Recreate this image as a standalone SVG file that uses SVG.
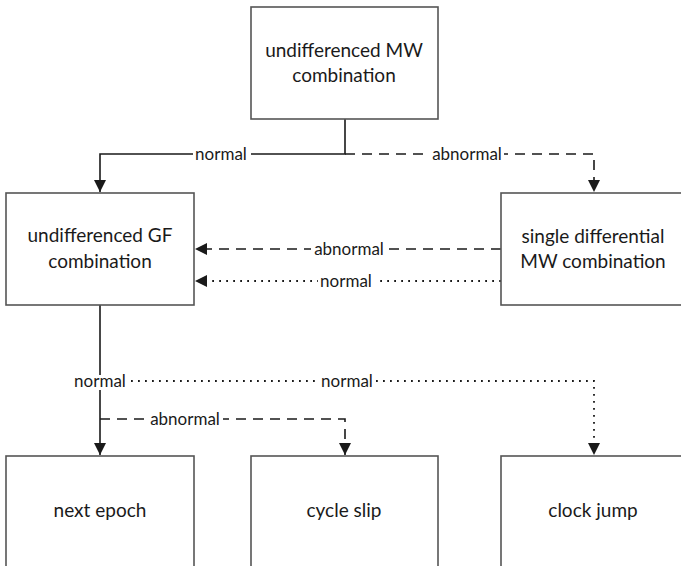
<svg xmlns="http://www.w3.org/2000/svg" width="681" height="566" viewBox="0 0 681 566">
<style>
.box{fill:#fff;stroke:#555;stroke-width:1.6}
.nt{font-family:Lato,"Open Sans",sans-serif;font-size:19px;fill:#1a1a1a;text-anchor:middle}
.lb{font-family:Lato,"Open Sans",sans-serif;font-size:17px;fill:#1a1a1a;text-anchor:middle}
.ln{fill:none;stroke:#1a1a1a;stroke-width:1.6}
.da{stroke-dasharray:10 7}
.do{stroke-dasharray:1.8 5.2;stroke-width:1.8}
.bg{fill:#fff}
</style>
<defs>
<marker id="ah" markerUnits="userSpaceOnUse" markerWidth="12" markerHeight="14" viewBox="0 0 12 14" refX="12" refY="7" orient="auto">
<path d="M0,1 L12,7 L0,13 Z" fill="#1a1a1a"/>
</marker>
</defs>
<rect width="681" height="566" fill="#fff"/>
<g id="connectors">
<path class="ln" d="M345,119 V154 H100 V192" marker-end="url(#ah)"/>
<path class="ln da" d="M345,154 H594 V192" marker-end="url(#ah)"/>
<path class="ln da" d="M501,249 H195" marker-end="url(#ah)"/>
<path class="ln do" d="M501,281 H195" marker-end="url(#ah)"/>
<path class="ln" d="M100,305 V375"/>
<path class="ln" d="M100,390 V455" marker-end="url(#ah)"/>
<path class="ln do" d="M131,381 H594 V455" marker-end="url(#ah)"/>
<path class="ln da" d="M100,419 H345 V455" marker-end="url(#ah)"/>
<rect class="bg" x="193" y="146" width="58" height="16"/>
<text class="lb" x="221" y="160">normal</text>
<rect class="bg" x="430" y="146" width="74" height="16"/>
<text class="lb" x="467" y="160">abnormal</text>
<rect class="bg" x="311" y="241" width="76" height="16"/>
<text class="lb" x="349" y="255">abnormal</text>
<rect class="bg" x="318" y="273" width="57" height="16"/>
<text class="lb" x="346" y="287">normal</text>
<text class="lb" x="100" y="387">normal</text>
<rect class="bg" x="318" y="373" width="58" height="16"/>
<text class="lb" x="347" y="387">normal</text>
<rect class="bg" x="147" y="411" width="76" height="16"/>
<text class="lb" x="185" y="425">abnormal</text>
</g>
<g id="mw">
<rect class="box" x="251" y="7" width="187" height="112"/>
<text class="nt" x="344" y="57">undifferenced MW</text>
<text class="nt" x="344" y="82">combination</text>
</g>
<g id="gf">
<rect class="box" x="6" y="193" width="188" height="112"/>
<text class="nt" x="100" y="242">undifferenced GF</text>
<text class="nt" x="100" y="268">combination</text>
</g>
<g id="sd">
<rect class="box" x="501" y="193" width="188" height="112"/>
<text class="nt" x="593" y="243">single differential</text>
<text class="nt" x="593" y="268">MW combination</text>
</g>
<g id="next">
<rect class="box" x="6" y="456" width="188" height="120"/>
<text class="nt" x="100" y="517">next epoch</text>
</g>
<g id="slip">
<rect class="box" x="251" y="456" width="187" height="120"/>
<text class="nt" x="344" y="517">cycle slip</text>
</g>
<g id="jump">
<rect class="box" x="501" y="456" width="188" height="120"/>
<text class="nt" x="593" y="517">clock jump</text>
</g>
</svg>
